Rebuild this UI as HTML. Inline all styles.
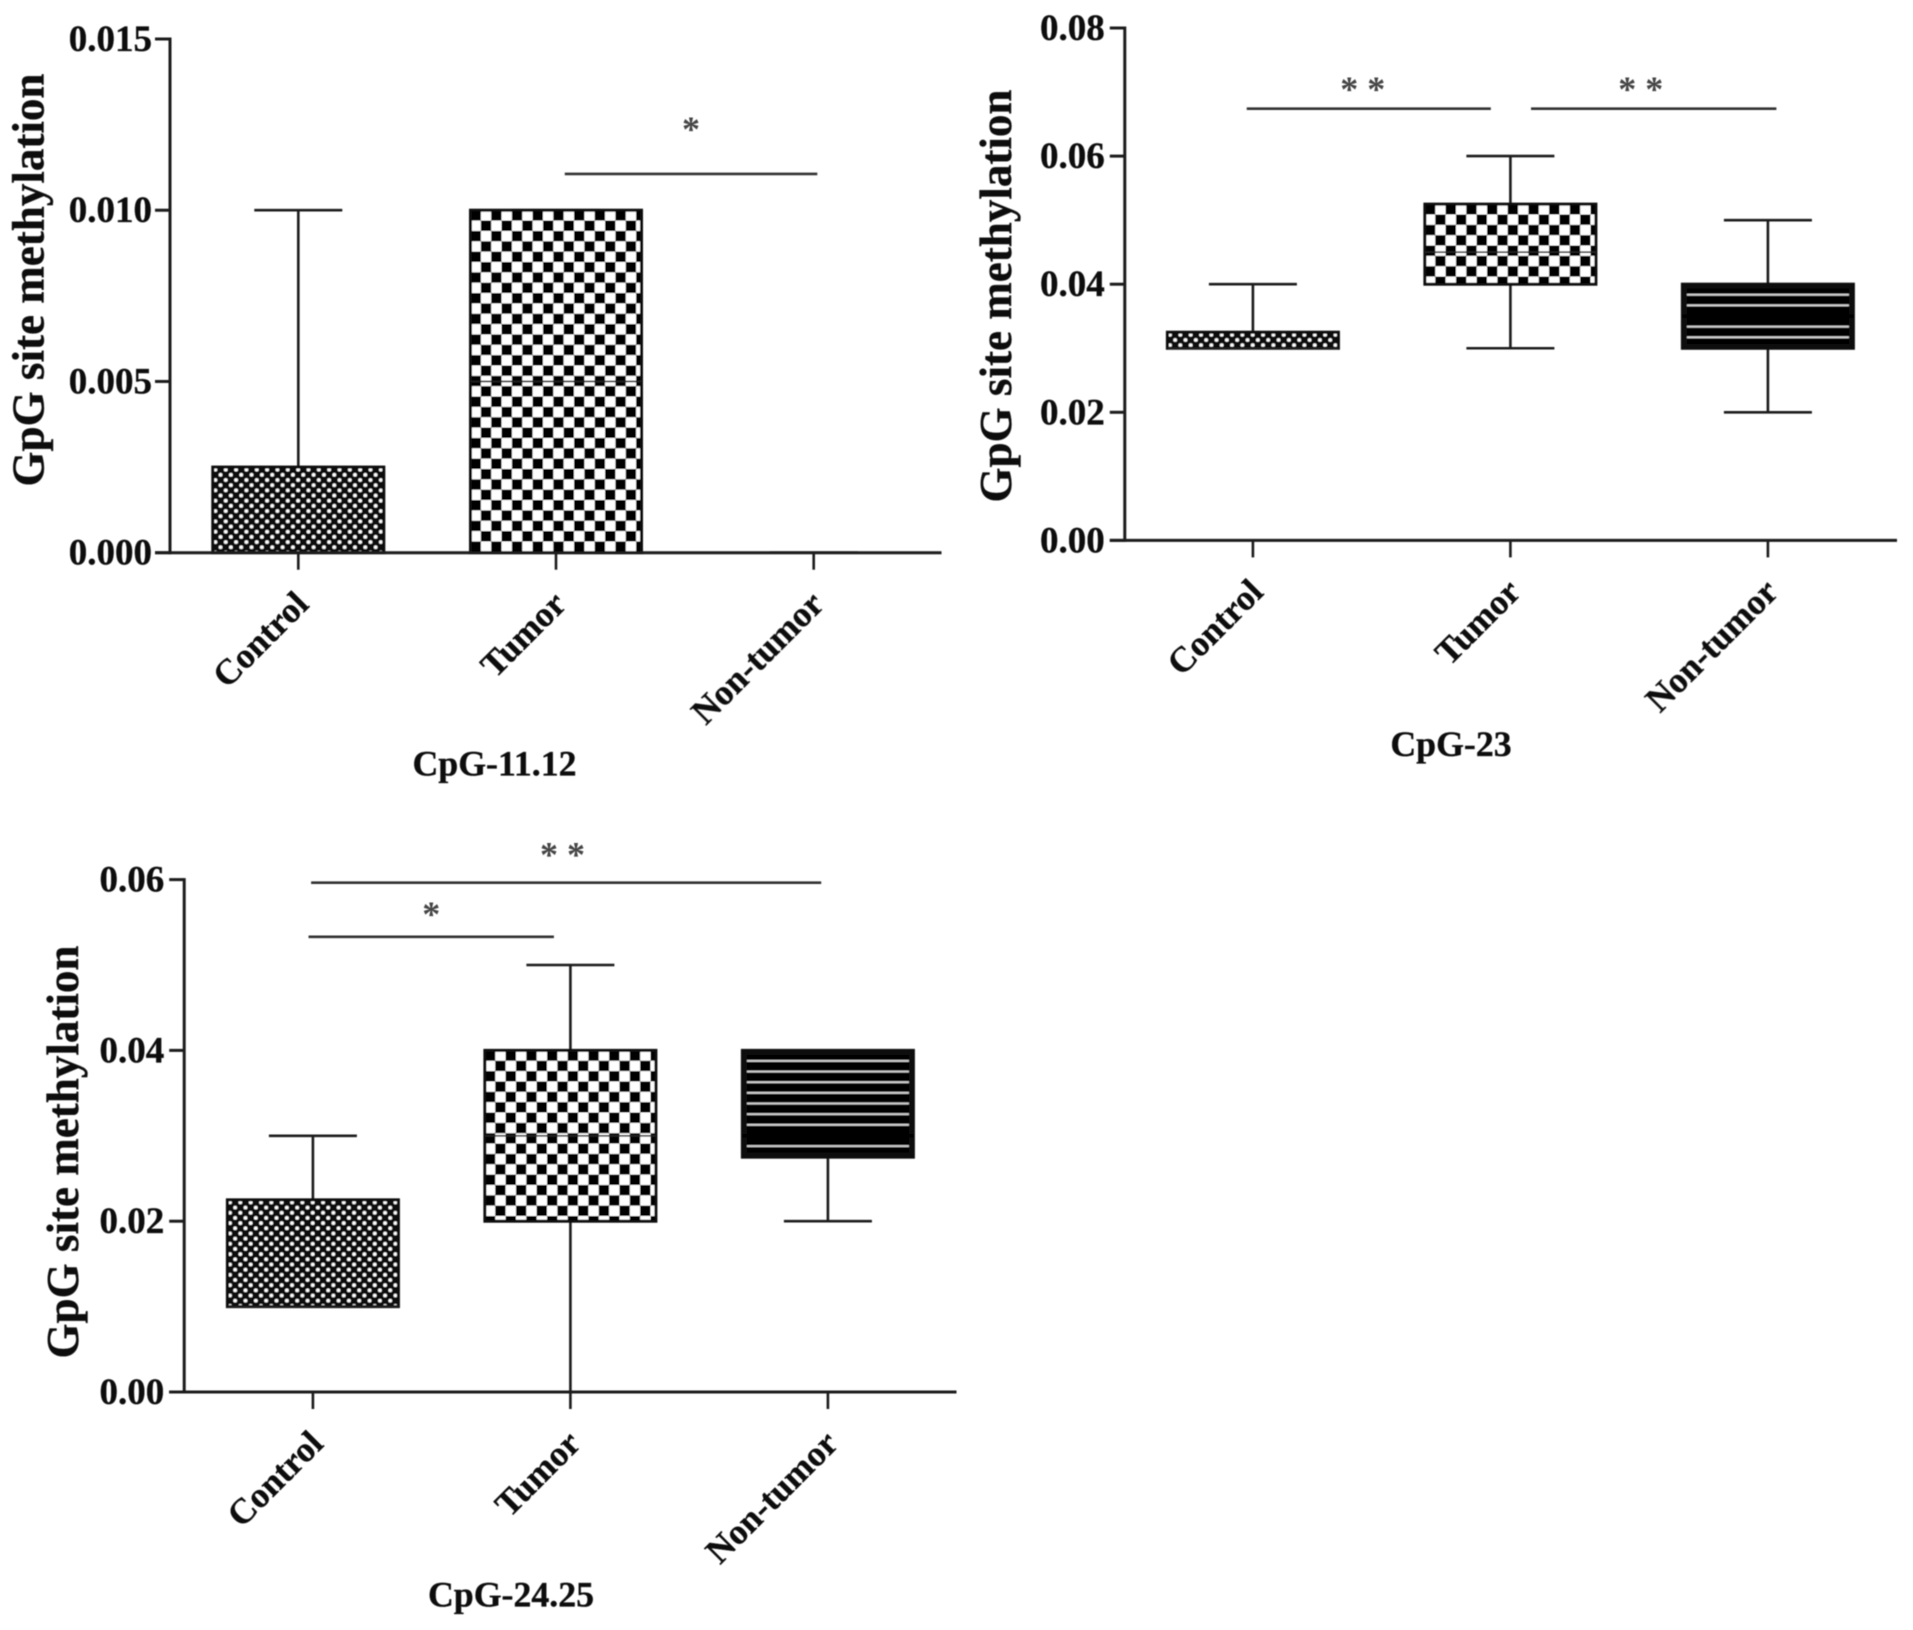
<!DOCTYPE html>
<html lang="en">
<head>
<meta charset="utf-8">
<title>GpG site methylation box plots</title>
<style>
html,body{margin:0;padding:0;background:#fff;width:1913px;height:1630px;overflow:hidden}
svg{display:block}
text{font-family:"Liberation Serif",serif;font-weight:bold;fill:#111;stroke:#111;stroke-width:0.35px}
</style>
</head>
<body>
<svg id="figure" xmlns="http://www.w3.org/2000/svg" width="1913" height="1630" viewBox="0 0 1913 1630">
  <defs id="defs">
    <filter id="soft" x="0" y="0" width="1913" height="1630" filterUnits="userSpaceOnUse">
      <feGaussianBlur stdDeviation="0.65"/>
    </filter>
  </defs>
  <rect x="0" y="0" width="1913" height="1630" fill="#fff"/>
  <g filter="url(#soft)">
    <g id="panel-a">
      <text transform="translate(43.5 280) rotate(-90)" text-anchor="middle" font-size="45" textLength="413" lengthAdjust="spacingAndGlyphs">GpG site methylation</text>
      <text x="494.5" y="775.5" text-anchor="middle" font-size="35.8">CpG-11.12</text>
    </g>
    <g id="panel-b">
      <text transform="translate(1011 296) rotate(-90)" text-anchor="middle" font-size="45" textLength="413" lengthAdjust="spacingAndGlyphs">GpG site methylation</text>
      <text x="1451" y="756" text-anchor="middle" font-size="35.8">CpG-23</text>
    </g>
    <g id="panel-c">
      <text transform="translate(78 1152) rotate(-90)" text-anchor="middle" font-size="45" textLength="413" lengthAdjust="spacingAndGlyphs">GpG site methylation</text>
      <text x="511" y="1606.5" text-anchor="middle" font-size="35.8">CpG-24.25</text>
    </g>
  </g>
</svg>
<script>
// ---- data ----
const categories = ['Control', 'Tumor', 'Non-tumor'];

const ticksA = ['0.000', '0.005', '0.010', '0.015'];
const minA = [0, 0, 0];
const q1A = [0, 0, 0];
const medianA = [0, 0.005, 0];
const q3A = [0.0025, 0.01, 0];
const maxA = [0.01, 0.01, 0];
const bracketLevelA = [0.01106];
const bracketFromA = [1.034];
const bracketToA = [2.014];
const bracketStarsA = ['*'];

const ticksB = ['0.00', '0.02', '0.04', '0.06', '0.08'];
const minB = [0.03, 0.03, 0.02];
const q1B = [0.03, 0.04, 0.03];
const medianB = [0.03, 0.045, 0.035];
const q3B = [0.0325, 0.0525, 0.04];
const maxB = [0.04, 0.06, 0.05];
const bracketLevelB = [0.0674, 0.0674];
const bracketFromB = [-0.024, 1.08];
const bracketToB = [0.924, 2.033];
const bracketStarsB = ['* *', '* *'];

const ticksC = ['0.00', '0.02', '0.04', '0.06'];
const minC = [0.01, 0, 0.02];
const q1C = [0.01, 0.02, 0.0275];
const medianC = [0.01, 0.03, 0.03];
const q3C = [0.0225, 0.04, 0.04];
const maxC = [0.03, 0.05, 0.04];
const bracketLevelC = [0.05964, 0.0533];
const bracketFromC = [-0.007, -0.017];
const bracketToC = [1.974, 0.936];
const bracketStarsC = ['* *', '*'];

// ---- drawing ----
const NS = 'http://www.w3.org/2000/svg';
const INK = '#1c1c1c';
const defs = document.getElementById('defs');
const fillKinds = ['fine', 'check', 'stripe'];
let patternCount = 0;

function make(tag, parent, attrs) {
  const el = document.createElementNS(NS, tag);
  for (const k in attrs) el.setAttribute(k, attrs[k]);
  parent.appendChild(el);
  return el;
}

function line(parent, x1, y1, x2, y2, w) {
  return make('line', parent, { x1: x1, y1: y1, x2: x2, y2: y2, stroke: INK, 'stroke-width': w });
}

function boxPattern(kind, x, y) {
  const id = 'pat' + (patternCount++);
  if (kind === 'check') {
    const c = 10.35;
    const p = make('pattern', defs, { id: id, patternUnits: 'userSpaceOnUse', x: x, y: y, width: 2 * c, height: 2 * c });
    make('rect', p, { x: 0, y: 0, width: 2 * c, height: 2 * c, fill: '#fff' });
    make('rect', p, { x: 0, y: 0, width: c, height: c, fill: '#000' });
    make('rect', p, { x: c, y: c, width: c, height: c, fill: '#000' });
  } else if (kind === 'fine') {
    const c = 5.17;
    const p = make('pattern', defs, { id: id, patternUnits: 'userSpaceOnUse', x: x, y: y, width: 2 * c, height: 2 * c });
    make('rect', p, { x: 0, y: 0, width: 2 * c, height: 2 * c, fill: '#0a0a0a' });
    make('circle', p, { cx: c / 2, cy: c / 2, r: 1.9, fill: '#fff' });
    make('circle', p, { cx: 1.5 * c, cy: 1.5 * c, r: 1.9, fill: '#fff' });
  } else {
    const c = 10.65;
    const p = make('pattern', defs, { id: id, patternUnits: 'userSpaceOnUse', x: x, y: y + 1.5, width: 2 * c, height: c });
    make('rect', p, { x: 0, y: 0, width: 2 * c, height: c, fill: '#000' });
    make('rect', p, { x: 0, y: 8, width: 2 * c, height: 2, fill: '#d8d8d8' });
  }
  return id;
}

function drawPanel(group, frame, ticks, yMax, mins, q1s, meds, q3s, maxs, levels, froms, tos, stars) {
  const yScale = v => frame.y0 - (v / yMax) * (frame.y0 - frame.yTop);
  const xScale = i => frame.cat0 + frame.step * i;

  // y axis
  const yAxis = line(group, frame.axis, frame.yTop - 1.5, frame.axis, frame.y0 + 1.5, 3);
  
  
  ticks.forEach((label, i) => {
    const y = yScale(yMax * i / (ticks.length - 1));
    const tick = line(group, frame.axis - 15, y, frame.axis, y, 3);
    
    
    const t = make('text', group, { x: frame.axis - frame.labelGap, y: y + 12, 'text-anchor': 'end', 'font-size': 37 });
    t.textContent = label;
    
    
  });

  categories.forEach((name, i) => {
    const cx = xScale(i);
    const tick = line(group, cx, frame.y0, cx, frame.y0 + 17, 2.6);
    
    

    const t = make('text', group, {
      'text-anchor': 'end', 'font-size': 35.5,
      transform: 'translate(' + (cx + 12) + ' ' + (frame.y0 + 53.5) + ') rotate(-45)'
    });
    t.textContent = name;
    
    

    // whiskers
    const upper = line(group, cx, yScale(q3s[i]), cx, yScale(maxs[i]), 2.6);
    
    
    const upperCap = line(group, cx - 44, yScale(maxs[i]), cx + 44, yScale(maxs[i]), 2.6);
    
    
    const lower = line(group, cx, yScale(q1s[i]), cx, yScale(mins[i]), 2.6);
    
    
    const lowerCap = line(group, cx - 44, yScale(mins[i]), cx + 44, yScale(mins[i]), 2.6);
    
    

    // box
    const top = yScale(q3s[i]);
    const h = yScale(q1s[i]) - top;
    const halfW = 85.5;
    const left = cx - halfW;
    const isStripe = fillKinds[i] === 'stripe';
    const sw = isStripe ? 6 : 3;
    const inset = (sw - 3) / 2;
    const pid = boxPattern(fillKinds[i], left, top);
    const box = make('rect', group, {
      x: left + inset, y: top + inset,
      width: 2 * (halfW - inset), height: Math.max(h - 2 * inset, 0),
      fill: 'url(#' + pid + ')', stroke: '#0a0a0a', 'stroke-width': h > 0 ? sw : 0
    });
    
    

    // median
    const medColor = isStripe ? '#000' : '#222';
    const mw = isStripe ? 3.5 : 1.6;
    const med = make('line', group, { x1: left, x2: left + 2 * halfW, y1: yScale(meds[i]), y2: yScale(meds[i]), stroke: medColor, 'stroke-width': h > 0 ? mw : 0 });
    
    
  });

  // x axis, on top of the boxes
  const xAxis = line(group, frame.axis - 15, frame.y0, frame.xEnd, frame.y0, 3);
  
  

  // significance brackets
  levels.forEach((lvl, i) => {
    const x1 = xScale(froms[i]);
    const x2 = xScale(tos[i]);
    const y = yScale(lvl);
    const b = line(group, x1, y, x2, y, 2.6);
    b.setAttribute('stroke', '#333');
    
    
    const s = make('text', group, { x: (x1 + x2) / 2 + frame.starDx[i], y: y + frame.starDy[i], 'text-anchor': 'middle', 'font-size': 36 });
    s.style.fill = '#444';
    s.style.stroke = 'none';
    s.textContent = stars[i];
    
    
  });
}

drawPanel(document.getElementById('panel-a'),
  { axis: 170, yTop: 39, y0: 552.7, cat0: 298.3, step: 257.7, xEnd: 941.5, labelGap: 18, starDx: [0], starDy: [-33] },
  ticksA, 0.015, minA, q1A, medianA, q3A, maxA, bracketLevelA, bracketFromA, bracketToA, bracketStarsA);
drawPanel(document.getElementById('panel-b'),
  { axis: 1124.8, yTop: 28, y0: 540.4, cat0: 1252.9, step: 257.5, xEnd: 1897, labelGap: 20, starDx: [-6, -13], starDy: [-7.5, -7.5] },
  ticksB, 0.08, minB, q1B, medianB, q3B, maxB, bracketLevelB, bracketFromB, bracketToB, bracketStarsB);
drawPanel(document.getElementById('panel-c'),
  { axis: 184.2, yTop: 879.6, y0: 1392, cat0: 312.9, step: 257.5, xEnd: 956.5, labelGap: 20, starDx: [-3.7, 0], starDy: [-16, -11] },
  ticksC, 0.06, minC, q1C, medianC, q3C, maxC, bracketLevelC, bracketFromC, bracketToC, bracketStarsC);
</script>
</body>
</html>
